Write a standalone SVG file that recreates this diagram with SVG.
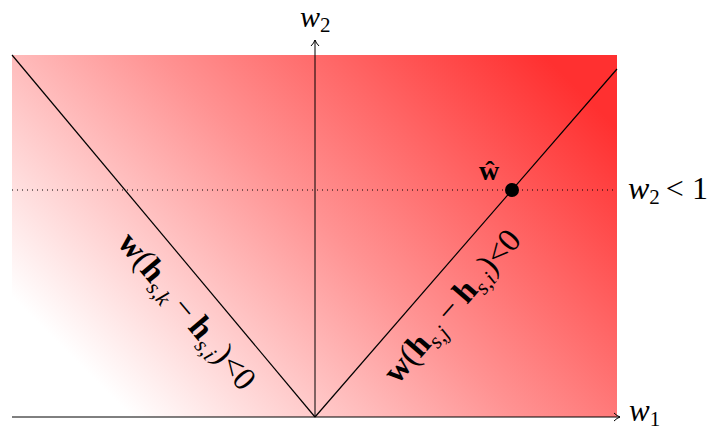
<svg xmlns="http://www.w3.org/2000/svg" width="716" height="430" viewBox="0 0 716 430">
<defs>
<linearGradient id="bg" gradientUnits="userSpaceOnUse" x1="70" y1="355" x2="457" y2="-32">
<stop offset="0" stop-color="#ffffff"/>
<stop offset="0.5" stop-color="#ff9292"/>
<stop offset="1" stop-color="#ff3030"/>
</linearGradient>
<marker id="arr" markerWidth="12" markerHeight="12" refX="9" refY="6" orient="auto" markerUnits="userSpaceOnUse">
<path d="M3,2 Q6,5 9,6 Q6,7 3,10" fill="none" stroke="#000" stroke-width="1"/>
</marker>
<style>
.ln{stroke:#000;stroke-width:1.2;fill:none}
.ax{stroke:#000;stroke-width:1;fill:none}
.t{font-family:"Liberation Serif","Times New Roman",serif;fill:#000}
.it{font-style:italic}
.b{font-weight:bold}
</style>
</defs>
<g id="region">
<rect x="12" y="55" width="605" height="362" fill="url(#bg)"/>
</g>
<g id="connectors">
<line class="ax" x1="12" y1="417" x2="620" y2="417" marker-end="url(#arr)"/>
<line class="ax" x1="315" y1="417" x2="315" y2="40" marker-end="url(#arr)"/>
<line class="ln" x1="12" y1="55" x2="315" y2="417"/>
<line class="ln" x1="315" y1="417" x2="617" y2="69"/>
<line x1="12" y1="190" x2="617" y2="190" stroke="#000" stroke-width="1" stroke-dasharray="1,4"/>
</g>
<g id="axis-w2"><text class="t it" x="300" y="27" font-size="30">w<tspan font-style="normal" font-size="21" dy="5">2</tspan></text></g>
<g id="axis-w1"><text class="t it" x="629" y="421" font-size="31">w<tspan font-style="normal" font-size="21" dy="5">1</tspan></text></g>
<g id="limit"><text class="t it" x="628" y="199" font-size="32">w<tspan font-style="normal" font-size="21" dy="5">2</tspan><tspan font-style="normal" dy="-5" dx="6">&lt;</tspan><tspan font-style="normal" dx="8">1</tspan></text></g>
<g id="what">
<circle cx="512" cy="190" r="7" fill="#000"/>
<text class="t b" x="489" y="180" font-size="28" text-anchor="middle">ŵ</text>
</g>
<g id="label-left">
<text class="t" transform="translate(179,318) rotate(50)" font-size="33" text-anchor="middle"><tspan class="b">w</tspan>(<tspan class="b">h</tspan><tspan class="it" font-size="22" dy="7">s,k</tspan><tspan dy="-7" dx="7">−</tspan><tspan class="b" dx="7">h</tspan><tspan class="it" font-size="22" dy="7">s,i</tspan><tspan dy="-7">)&lt;0</tspan></text>
</g>
<g id="label-right">
<text class="t" transform="translate(460,313) rotate(-49)" font-size="33" text-anchor="middle"><tspan class="b">w</tspan>(<tspan class="b">h</tspan><tspan class="it" font-size="22" dy="7">s,j</tspan><tspan dy="-7" dx="7">−</tspan><tspan class="b" dx="7">h</tspan><tspan class="it" font-size="22" dy="7">s,i</tspan><tspan dy="-7">)&lt;0</tspan></text>
</g>
</svg>
